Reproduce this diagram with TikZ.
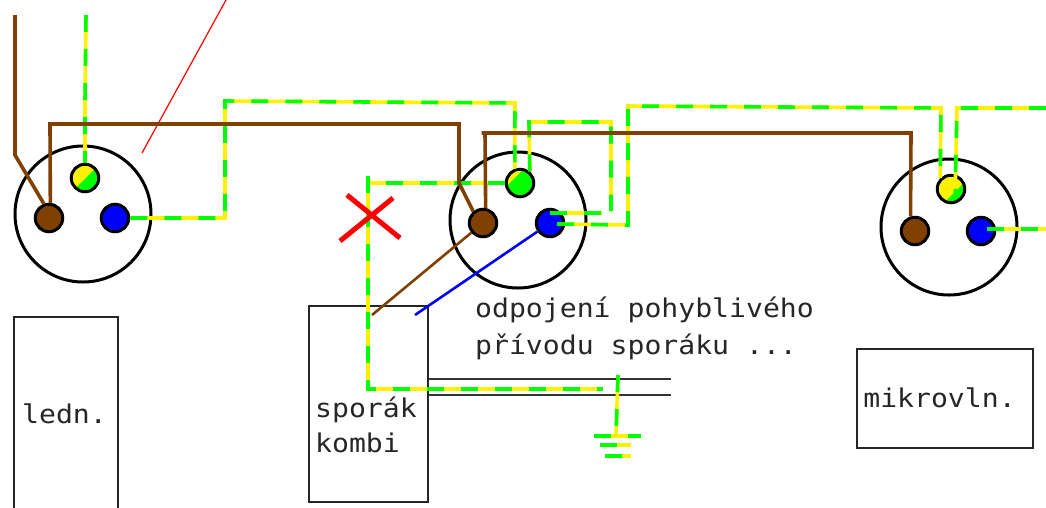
\documentclass[tikz,border=0pt]{standalone}
\usepackage{fontspec}
\newfontfamily\labelfont[FakeStretch=1.09]{DejaVu Sans Mono}

\tikzset{
  socket/.style={circle,draw,line width=3pt,minimum size=136pt,inner sep=0pt},
  pinnode/.style={circle,draw,line width=3pt,minimum size=27.5pt,inner sep=0pt},
  earthpin/.style={pinnode,fill=green,path picture={
    \fill[yellow] (path picture bounding box.north west) -- ++(#1pt,0pt) -- ++(-#1pt,-#1pt) -- cycle;}},
  boxnode/.style={rectangle,draw=black!85,line width=1.5pt,inner sep=0pt},
  txt/.style={font=\labelfont\fontsize{25.8}{36}\selectfont,inner sep=0pt,align=left,text=black!85},
  phase/.style={draw=wirebrown,line width=3.6pt},
  neutral/.style={draw=blue,line width=2.6pt},
  pewire/.style={draw=yellow,line width=3.6pt,postaction={draw=green,dash pattern=on 17pt off 17pt}},
  cable/.style={draw=black!80,line width=1.5pt},
}
\definecolor{wirebrown}{HTML}{804000}

\begin{document}
\begin{tikzpicture}[x=1pt,y=-1pt]
  \clip (0,0) rectangle (1046,507);
% define the sockets and their pins
  \node[socket] (sock1) at (83,214) {};
  \node[socket] (sock2) [right of=sock1,node distance=435pt,yshift=-6pt] {};
  \node[socket] (sock3) [right of=sock2,node distance=431pt,yshift=-7pt] {};
  \node[pinnode,fill=wirebrown] (l1) at (49,218) {};
  \node[pinnode,fill=blue] (n1) [right of=l1,node distance=66pt] {};
  \node[earthpin=28] (pe1) at (85,178) {};
  \node[pinnode,fill=wirebrown] (l2) at (483,223) {};
  \node[pinnode,fill=blue] (n2) [right of=l2,node distance=67pt] {};
  \node[earthpin=17] (pe2) at (520,183) {};
  \node[pinnode,fill=wirebrown] (l3) at (915,231) {};
  \node[pinnode,fill=blue] (n3) [right of=l3,node distance=66pt] {};
  \node[earthpin=34] (pe3) at (951,189) {};

% define the appliances
  \node[boxnode,minimum width=104pt,minimum height=200pt] (fridge) at (66,417) {};
  \node[boxnode,minimum width=119pt,minimum height=196pt] (stove) at (368.5,404) {};
  \node[boxnode,minimum width=176pt,minimum height=99pt] (micro) at (945,398.5) {};
  \node[txt,anchor=base] (fridgetxt) at (64.5,423) {ledn.};
  \node[txt,anchor=base west] (stovetxt1) at (315,417) {sporák};
  \node[txt,anchor=base west] (stovetxt2) at (315,452) {kombi};
  \node[txt,anchor=base] (microtxt) at (939.5,407) {mikrovln.};
  \node[txt,anchor=base west] (notetxt1) at (475,317) {odpojení pohyblivého};
  \node[txt,anchor=base west] (notetxt2) at (475,354) {přívodu sporáku ...};

% free ends of the wires
  \coordinate (inbrown) at (15,15);
  \coordinate (inpe) at (86,15);
  \coordinate (redtop) at (226,0);
  \coordinate (redend) at (142,153);
  \coordinate (stovebrown) at (372,315);
  \coordinate (stoveblue) at (415,315);
  \coordinate (stovepe) at (603,389);
  \coordinate (petop) at (368,176);
  \coordinate (pecorner) at (368,389);
  \coordinate (loopend) at (611,211);
  \coordinate (n2a) at (550,213);
  \coordinate (n2b) at (557,224);
  \coordinate (n2end) at (602,213);
  \coordinate (pe3in) at (955,197);
  \coordinate (outpe) at (1046,108);
  \coordinate (n3a) at (987,229);
  \coordinate (outn) at (1046,229);
  \coordinate (cabA) at (671,379);
  \coordinate (cabB) at (671,395);
  \coordinate (bar1a) at (594,436);
  \coordinate (bar1b) at (641,436);
  \coordinate (bar2a) at (600,445);
  \coordinate (bar2b) at (631,445);
  \coordinate (bar3a) at (605,456);
  \coordinate (bar3b) at (631,456);
  \coordinate (earthtop) at (618,375);
  \coordinate (earthend) at (616,436);
  \coordinate (stub) at (481.5,133);

% define the links
  \path[cable] (stove.east |- cabA) -- (cabA);
  \path[cable] (stove.east |- cabB) -- (cabB);
  \draw[red,line width=1.2pt] (redtop) -- (redend);
  \path[pewire] (inpe) -- (85,100) -- (pe1.north);
  \path[pewire] (n1) -- (225,218) -- (225,101) -- (515,103) -- (pe2.110);
  \path[pewire] (pe2.50) -- (529,122) -- (611,122) -- (loopend);
  \path[pewire] (n2a) -- (n2end);
  \path[pewire] (n2b) -- (628,225) -- (628,106) -- (941,108) -- (pe3.135);
  \path[pewire] (outpe) -- (957,108) -- (pe3in);
  \path[pewire] (n3a) -- (outn);
  \path[pewire] (pe2) -- (petop |- pe2) -- (petop);
  \path[pewire] (petop) -- (pecorner) -- (stovepe);
  \path[pewire] (earthtop) -- (earthend);
  \path[pewire] (bar1a) -- (bar1b);
  \path[pewire] (bar2a) -- (bar2b);
  \path[pewire] (bar3a) -- (bar3b);
  \path[phase] (inbrown) -- (15,155) -- (l1.110);
  \path[phase] (l1.85) -- (50,124) -- (459,124) -- (459,183) -- (l2.130);
  \path[phase] (l2.80) -- (485,133);
  \path[phase] (stub) -- (911,133) -- (l3.107);
  \path[phase,line width=2.6pt] (l2) -- (stovebrown);
  \path[neutral] (n2) -- (stoveblue);

% the red cross
  \coordinate (crossA) at (347,195);
  \coordinate (crossB) at (400,238);
  \coordinate (crossC) at (340,241);
  \coordinate (crossD) at (393,198);
  \draw[red,line width=5pt] (crossA) -- (crossB);
  \draw[red,line width=5pt] (crossC) -- (crossD);
\end{tikzpicture}
\end{document}
